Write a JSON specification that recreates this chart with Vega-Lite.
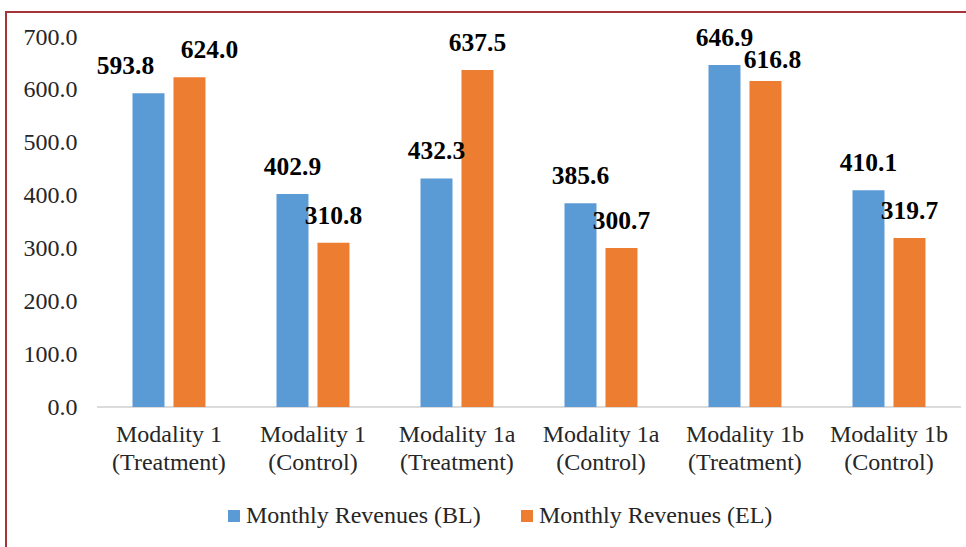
{
  "$schema": "https://vega.github.io/schema/vega-lite/v6.json",
  "autosize": "none",
  "padding": {"left": 6, "top": 12, "right": -3, "bottom": -3},
  "width": 963,
  "height": 538,
  "background": "white",
  "config": {
    "view": {"stroke": "#A5333A", "strokeWidth": 2},
    "font": "Liberation Serif"
  },
  "data": {
    "values": [
      {"group": "Modality 1|(Treatment)", "series": "Monthly Revenues (BL)", "value": 593.8},
      {"group": "Modality 1|(Treatment)", "series": "Monthly Revenues (EL)", "value": 624.0},
      {"group": "Modality 1|(Control)", "series": "Monthly Revenues (BL)", "value": 402.9},
      {"group": "Modality 1|(Control)", "series": "Monthly Revenues (EL)", "value": 310.8},
      {"group": "Modality 1a|(Treatment)", "series": "Monthly Revenues (BL)", "value": 432.3},
      {"group": "Modality 1a|(Treatment)", "series": "Monthly Revenues (EL)", "value": 637.5},
      {"group": "Modality 1a|(Control)", "series": "Monthly Revenues (BL)", "value": 385.6},
      {"group": "Modality 1a|(Control)", "series": "Monthly Revenues (EL)", "value": 300.7},
      {"group": "Modality 1b|(Treatment)", "series": "Monthly Revenues (BL)", "value": 646.9},
      {"group": "Modality 1b|(Treatment)", "series": "Monthly Revenues (EL)", "value": 616.8},
      {"group": "Modality 1b|(Control)", "series": "Monthly Revenues (BL)", "value": 410.1},
      {"group": "Modality 1b|(Control)", "series": "Monthly Revenues (EL)", "value": 319.7}
    ]
  },
  "encoding": {
    "x": {
      "field": "group",
      "type": "nominal",
      "sort": null,
      "scale": {"paddingInner": 0, "paddingOuter": 0.34375, "align": 0.919},
      "axis": {
        "orient": "bottom",
        "offset": -143,
        "domain": false,
        "ticks": false,
        "tickSize": 0,
        "labelPadding": 15,
        "labelAngle": 0,
        "labelBaseline": "top",
        "labelExpr": "split(datum.label, '|')",
        "labelFont": "Liberation Serif",
        "labelFontSize": 24,
        "labelLineHeight": 28,
        "labelColor": "#262626",
        "labelLimit": 300,
        "title": null
      }
    }
  },
  "layer": [
    {
      "mark": {"type": "rule", "color": "#D9D9D9", "strokeWidth": 1.5},
      "encoding": {
        "x": {"field": "group", "type": "nominal", "sort": null, "bandPosition": 0},
        "x2": {"field": "group", "bandPosition": 1},
        "y": {"datum": 0, "type": "quantitative"}
      }
    },
    {
      "mark": {"type": "bar"},
      "encoding": {
        "xOffset": {
          "field": "series",
          "type": "nominal",
          "scale": {"paddingInner": 0.2195, "paddingOuter": 0.866}
        },
        "y": {
          "field": "value",
          "type": "quantitative",
          "scale": {"domain": [-270.54, 747.3], "nice": false, "zero": false},
          "axis": {
            "values": [0, 100, 200, 300, 400, 500, 600, 700],
            "format": ".1f",
            "domain": false,
            "ticks": false,
            "tickSize": 0,
            "grid": false,
            "offset": -71,
            "labelPadding": 0,
            "labelFont": "Liberation Serif",
            "labelFontSize": 24,
            "labelColor": "#262626",
            "title": null
          }
        },
        "color": {
          "field": "series",
          "type": "nominal",
          "scale": {
            "domain": ["Monthly Revenues (BL)", "Monthly Revenues (EL)"],
            "range": ["#5B9BD5", "#ED7D31"]
          },
          "legend": {
            "orient": "none",
            "legendX": 216,
            "legendY": 492,
            "direction": "horizontal",
            "title": null,
            "symbolType": "square",
            "symbolSize": 144,
            "symbolStrokeWidth": 0,
            "labelFont": "Liberation Serif",
            "labelFontSize": 24,
            "labelColor": "#262626",
            "labelOffset": 0,
            "labelLimit": 400,
            "columnPadding": 34,
            "padding": 0
          }
        }
      }
    },
    {
      "mark": {
        "type": "text",
        "font": "Liberation Serif",
        "fontWeight": "bold",
        "fontSize": 25.5,
        "baseline": "alphabetic",
        "dx": {"expr": "datum.group == 'Modality 1|(Treatment)' ? (datum.series == 'Monthly Revenues (BL)' ? -23 : 20) : (datum.group == 'Modality 1b|(Treatment)' && datum.series == 'Monthly Revenues (EL)' ? 7 : 0)"},
        "dy": {"expr": "datum.group == 'Modality 1b|(Treatment)' && datum.series == 'Monthly Revenues (EL)' ? -13 : -19"},
        "color": "#000000"
      },
      "encoding": {
        "xOffset": {"field": "series", "type": "nominal"},
        "y": {"field": "value", "type": "quantitative"},
        "text": {"field": "value", "type": "quantitative", "format": ".1f"}
      }
    }
  ]
}
